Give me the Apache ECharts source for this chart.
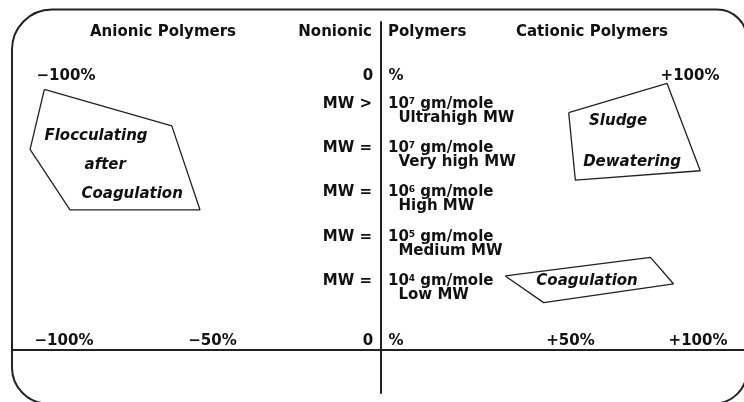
<!DOCTYPE html>
<html>
<head>
<meta charset="utf-8">
<script src="https://cdn.jsdelivr.net/npm/echarts@6/dist/echarts.min.js"></script>
<style>
  html, body { margin: 0; padding: 0; background: #fff; }
  #chart { width: 744px; height: 402px; }
</style>
</head>
<body>
<div id="chart"></div>
<script>
// vertical axis: molecular weight class (log10 of gm/mole)
var mwLevels = [4, 5, 6, 7, 8];
var mwExponents = ['4', '5', '6', '7', '7'];
var mwSigns = ['=', '=', '=', '=', '>'];
var mwNames = ['Low MW', 'Medium MW', 'High MW', 'Very high MW', 'Ultrahigh MW'];

// horizontal axis: charge density in %, anionic (<0) to cationic (>0)
var bottomTicksAnionic = [-100, -50, 0];
var bottomTicksCationic = [0, 50, 100];
var topTicksAnionic = [-100, 0];
var topTicksCationic = [0, 100];

// application regions, [charge %, MW level]
var flocculatingRegion = [[-106.2, 8.32], [-66.0, 7.50], [-57.1, 5.61], [-98.1, 5.61], [-110.7, 6.97]];
var sludgeRegion = [[59.2, 7.80], [90.2, 8.46], [100.7, 6.49], [61.3, 6.28]];
var coagulationRegion = [[39.2, 4.12], [85.0, 4.54], [92.3, 3.94], [51.3, 3.52]];

var anionicRegionNames = [['Flocculating', -89.9, 7.27], ['after', -87.0, 6.62], ['Coagulation', -78.5, 5.97]];
var cationicRegionNames = [['Sludge', 74.8, 7.61], ['Dewatering', 79.2, 6.69], ['Coagulation', 65.0, 4.01]];

var chart = echarts.init(document.getElementById('chart'));

var FONT = 'DejaVu Sans';
var labelFont = { fontFamily: FONT, fontWeight: 'bold', fontSize: 15, color: '#111' };
var yMin = 1.484, yMax = 9.84;
var xMinAnionic = -116.4, xMaxCationic = 114.5;

function closed(pts) {
    return pts.concat([pts[0]]);
}

function chargeText(v, side) {
    if (v === 0) return side === 'anionic' ? '0' : '%';
    return v < 0 ? '\u2212' + (-v) + '%' : '+' + v + '%';
}

// the hand drawn scale is uneven, so some labels sit a bit off their tick
function chargeAxis(gridIndex, position, min, max, ticks, side, shifts) {
    var rich = {};
    ticks.forEach(function (t, i) {
        var dx = shifts[t] || 0;
        rich['k' + i] = Object.assign({}, labelFont, {
            padding: dx > 0 ? [0, 0, 0, 2 * dx] : [0, -2 * dx, 0, 0]
        });
    });
    return {
        type: 'value',
        gridIndex: gridIndex,
        position: position,
        offset: position === 'bottom' ? -43 : -54,
        min: min,
        max: max,
        axisLine: { show: position === 'bottom', onZero: false, lineStyle: { color: '#222', width: 2 } },
        axisTick: { show: false },
        splitLine: { show: false },
        axisLabel: {
            show: true,
            inside: position === 'bottom',
            margin: position === 'bottom' ? 9 : 0,
            verticalAlign: 'middle',
            customValues: ticks,
            formatter: function (v) {
                var i = ticks.indexOf(v);
                if (i < 0) return '';
                return '{k' + i + '|' + chargeText(v, side) + '}';
            },
            rich: rich
        }
    };
}

var regionLabel = Object.assign({ show: true, position: 'inside', formatter: '{b}', fontStyle: 'italic', opacity: 1 }, labelFont);

var option = {
    animation: false,
    backgroundColor: '#fff',
    grid: [
        { left: 12, right: 363, top: 22, bottom: 9 },
        { left: 381, right: 0, top: 22, bottom: 9 }
    ],
    xAxis: [
        chargeAxis(0, 'bottom', xMinAnionic, 0, bottomTicksAnionic, 'anionic', { '-50': -10, '0': -13 }),
        chargeAxis(0, 'top', xMinAnionic, 0, topTicksAnionic, 'anionic', { '-100': 2, '0': -13 }),
        chargeAxis(1, 'bottom', 0, xMaxCationic, bottomTicksCationic, 'cationic', { '0': 15, '50': 31 }),
        chargeAxis(1, 'top', 0, xMaxCationic, topTicksCationic, 'cationic', { '0': 15, '100': -8 })
    ],
    yAxis: [
        {
            type: 'value',
            gridIndex: 0,
            position: 'right',
            min: yMin,
            max: yMax,
            axisLine: { show: true, onZero: false, lineStyle: { color: '#222', width: 2 } },
            axisTick: { show: false },
            splitLine: { show: false },
            axisLabel: Object.assign({}, labelFont, {
                inside: true,
                margin: 9,
                customValues: mwLevels,
                formatter: function (v) {
                    var i = mwLevels.indexOf(v);
                    return i < 0 ? '' : 'MW ' + mwSigns[i];
                }
            })
        },
        {
            type: 'value',
            gridIndex: 1,
            position: 'left',
            min: yMin,
            max: yMax,
            axisLine: { show: false, onZero: false },
            axisTick: { show: false },
            splitLine: { show: false },
            axisLabel: {
                inside: true,
                margin: 7,
                padding: [14, 0, 0, 0],
                customValues: mwLevels,
                formatter: function (v) {
                    var i = mwLevels.indexOf(v);
                    if (i < 0) return '';
                    return '{n|10}{s|' + mwExponents[i] + '}{n| gm/mole}\n{n|  ' + mwNames[i] + '}';
                },
                rich: {
                    n: Object.assign({}, labelFont, { lineHeight: 14 }),
                    s: { fontFamily: FONT, fontWeight: 'bold', fontSize: 9, color: '#111', verticalAlign: 'top', lineHeight: 9 }
                }
            }
        }
    ],
    graphic: [
        {
            type: 'rect',
            silent: true,
            shape: { x: 12, y: 9.5, width: 735, height: 394, r: [40, 30, 33, 36] },
            style: { fill: 'none', stroke: '#222', lineWidth: 2 }
        },
        { type: 'text', x: 163, y: 32, style: Object.assign({ text: 'Anionic Polymers', align: 'center', verticalAlign: 'middle', fill: '#111' }, labelFont) },
        { type: 'text', x: 372, y: 32, style: Object.assign({ text: 'Nonionic', align: 'right', verticalAlign: 'middle', fill: '#111' }, labelFont) },
        { type: 'text', x: 388, y: 32, style: Object.assign({ text: 'Polymers', align: 'left', verticalAlign: 'middle', fill: '#111' }, labelFont) },
        { type: 'text', x: 592, y: 32, style: Object.assign({ text: 'Cationic Polymers', align: 'center', verticalAlign: 'middle', fill: '#111' }, labelFont) }
    ],
    series: [
        {
            type: 'line', xAxisIndex: 0, yAxisIndex: 0, silent: true,
            data: closed(flocculatingRegion), symbol: 'none',
            lineStyle: { color: '#222', width: 1.3 }
        },
        {
            type: 'line', xAxisIndex: 2, yAxisIndex: 1, silent: true,
            data: closed(sludgeRegion), symbol: 'none',
            lineStyle: { color: '#222', width: 1.3 }
        },
        {
            type: 'line', xAxisIndex: 2, yAxisIndex: 1, silent: true,
            data: closed(coagulationRegion), symbol: 'none',
            lineStyle: { color: '#222', width: 1.3 }
        },
        {
            type: 'scatter', xAxisIndex: 0, yAxisIndex: 0, silent: true, symbolSize: 1,
            itemStyle: { color: 'rgba(0,0,0,0)', opacity: 1 },
            data: anionicRegionNames.map(function (d) { return { name: d[0], value: [d[1], d[2]] }; }),
            label: regionLabel
        },
        {
            type: 'scatter', xAxisIndex: 2, yAxisIndex: 1, silent: true, symbolSize: 1,
            itemStyle: { color: 'rgba(0,0,0,0)', opacity: 1 },
            data: cationicRegionNames.map(function (d) { return { name: d[0], value: [d[1], d[2]] }; }),
            label: regionLabel
        }
    ]
};

chart.setOption(option);
</script>
</body>
</html>
